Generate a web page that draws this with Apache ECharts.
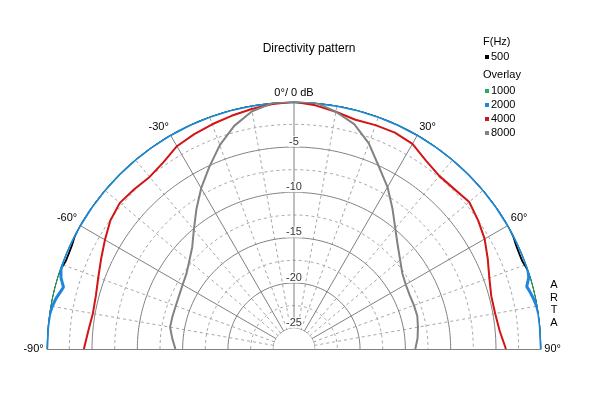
<!DOCTYPE html>
<html><head><meta charset="utf-8">
<script src="https://cdn.jsdelivr.net/npm/echarts@6/dist/echarts.min.js"></script>
<style>html,body{margin:0;padding:0;background:#fff}#c{width:600px;height:400px}</style>
</head><body><div id="c"></div>
<script>
// ---- data ----
const anglesMain = [-90,-85,-80,-75,-70,-65,-60,-55,-50,-45,-40,-35,-30,-25,-20,-15,-10,-5,0,5,10,15,20,25,30,35,40,45,50,55,60,65,70,75,80,85,90];
const db4000 = [-4.1,-4.5,-4.75,-4.65,-4.3,-3.8,-3.2,-2.55,-2.2,-2.35,-2.5,-2.15,-1.45,-1.15,-0.9,-0.65,-0.4,-0.15,0,-0.3,-0.7,-1.1,-1.0,-0.95,-1.15,-1.9,-2.35,-2.3,-2.05,-2.5,-3.0,-3.7,-4.35,-4.75,-4.75,-4.5,-3.9];
const db8000 = [-14.2,-13.8,-13.4,-13.4,-13.4,-13.3,-13.1,-12.8,-12.2,-11.4,-10.1,-8.5,-6.8,-5.15,-3.35,-1.8,-0.65,-0.05,0,0,-0.7,-1.6,-3.15,-5.1,-6.65,-8.35,-9.9,-11.1,-12.0,-12.7,-13.05,-13.2,-13.2,-13.2,-13.4,-13.6,-13.9];

const anglesOuter = [-90,-85,-82,-80,-78,-76,-75,-73,-71,-69,-67,-65,-63,
  -60,-55,-50,-45,-40,-35,-30,-25,-20,-15,-10,-5,0,5,10,15,20,25,30,35,40,45,50,55,60,
  63,65,67,69,71,73,75,76,78,80,82,85,90];
const db500 = [0,0,0,0,0,0,0,0,-0.1,-0.3,-0.3,-0.25,-0.1,
  0,0,0,0,0,0,0,0,0,0,0,0,0,0,0,0,0,0,0,0,0,0,0,0,0,
  -0.1,-0.25,-0.3,-0.3,-0.1,0,0,0,0,0,0,0,0];
const db1000 = [0,0,0,0,0,0,0,0,0,0,0,0,0,
  0,0,0,0,0,0,0,0,0,0,0,0,0,0,0,0,0,0,0,0,0,0,0,0,0,
  0,0,0,0,0,0,0,0,0,0,0,0,0];
const db2000 = [0,0,-0.05,-0.2,-0.45,-0.8,-0.95,-0.4,-0.1,0,0,0,0,
  0,0,0,0,0,0,0,0,0,0,0,0,0,0,0,0,0,0,0,0,0,0,0,0,0,
  0,0,0,0,0,-0.2,-0.7,-0.55,-0.3,-0.1,0,0,0];

const radialLabels = [-5,-10,-15,-20,-25];
const majorRings = [-25,-20,-15,-10,-5,0];
const minorRings = [-22.5,-17.5,-12.5,-7.5,-2.5];
const majorSpokes = [-60,-30,0,30,60];
const minorSpokes = [-80,-70,-50,-40,-20,-10,10,20,40,50,70,80];
const seriesNames = ['500','1000','2000','4000','8000'];
const seriesColors = ['#000000','#1fae62','#1e86dc','#d21414','#828282'];
const seriesWidths = [1.8, 1.8, 3, 2, 2];

// ---- chart ----
const FONT = '"Liberation Sans", Arial, sans-serif';
const chart = echarts.init(document.getElementById('c'));
const pair = (angles, vals) => angles.map((a, i) => [vals[i], a]);
const curves = [
  [anglesOuter, db500], [anglesOuter, db1000], [anglesOuter, db2000],
  [anglesMain, db4000], [anglesMain, db8000]
];
const arcAngles = [];
for (let a = -90; a <= 90; a += 1) arcAngles.push(a);
const solidGrid = {color: '#808080', width: 1};
const dashedGrid = {color: '#a6a6a6', width: 1, type: [3, 3]};
const gridLine = (data) => ({
  type: 'line', coordinateSystem: 'polar', silent: true, z: 1,
  data: data, symbol: 'none', showSymbol: false
});
const ringSeries = (level, dashed) => Object.assign(gridLine(arcAngles.map(a => [level, a])),
  {lineStyle: dashed ? dashedGrid : solidGrid});
const spokeSeries = (ang, dashed) => Object.assign(gridLine([[-25, ang], [0, ang]]),
  {lineStyle: dashed ? dashedGrid : solidGrid});
const titleStyle = {fontSize: 11, fontWeight: 'normal', color: '#000', fontFamily: FONT};

chart.setOption({
  animation: false,
  textStyle: {fontFamily: FONT},
  title: [
    {text: 'Directivity pattern', left: 309, top: 43, textAlign: 'center', padding: 0,
     textStyle: {fontSize: 12, fontWeight: 'normal', color: '#000', fontFamily: FONT}},
    {text: 'F(Hz)', left: 483, top: 36, padding: 0, textStyle: titleStyle},
    {text: 'Overlay', left: 483, top: 69, padding: 0, textStyle: titleStyle},
    {text: 'A\nR\nT\nA', left: 554, top: 279, textAlign: 'center', padding: 0,
     textStyle: Object.assign({}, titleStyle, {lineHeight: 12.5})}
  ],
  legend: [
    {data: [seriesNames[0]], orient: 'vertical', left: 485, top: 50, icon: 'rect',
     itemWidth: 4, itemHeight: 4, itemGap: 0, padding: 0, selectedMode: false,
     textStyle: {fontSize: 11, color: '#000', lineHeight: 14, padding: [0, 0, 0, -3], fontFamily: FONT}},
    {data: seriesNames.slice(1), orient: 'vertical', left: 485, top: 84, icon: 'rect',
     itemWidth: 4, itemHeight: 4, itemGap: 0, padding: 0, selectedMode: false,
     textStyle: {fontSize: 11, color: '#000', lineHeight: 14, padding: [0, 0, 0, -3], fontFamily: FONT}}
  ],
  polar: {center: [294, 349], radius: [20.7, 247.3]},
  angleAxis: {
    type: 'value', min: -90, max: 90, interval: 30,
    startAngle: 180, endAngle: 0, clockwise: true,
    axisLine: {show: false}, axisTick: {show: false},
    axisLabel: {show: true, margin: 3, fontSize: 11, color: '#000', fontFamily: FONT,
      formatter: v => (v === 0 ? '0°/ 0 dB' : v + '°')},
    splitLine: {show: false}, minorSplitLine: {show: false}
  },
  radiusAxis: {
    type: 'value', min: -25, max: 0, interval: 5,
    axisLine: {show: false}, axisTick: {show: false}, axisLabel: {show: false},
    splitLine: {show: false}, minorSplitLine: {show: false}
  },
  series: minorRings.map(l => ringSeries(l, true))
    .concat(minorSpokes.map(a => spokeSeries(a, true)))
    .concat(majorRings.map(l => ringSeries(l, false)))
    .concat(majorSpokes.map(a => spokeSeries(a, false)))
    .concat(curves.map((c, i) => ({
      type: 'line', coordinateSystem: 'polar', name: seriesNames[i],
      data: pair(c[0], c[1]), symbol: 'none', showSymbol: false, smooth: false,
      lineStyle: {width: seriesWidths[i], color: seriesColors[i]}, itemStyle: {color: seriesColors[i]},
      z: 3, silent: true
    })))
    .concat([{
      type: 'scatter', coordinateSystem: 'polar', silent: true, z: 5,
      data: radialLabels.map(v => [v, 0]), symbolSize: 0,
      label: {show: true, position: 'top', distance: 0, fontSize: 11, color: '#000',
        fontFamily: FONT, backgroundColor: '#fff', padding: [0, 1],
        formatter: p => String(p.value[0])}
    }])
});

const idx = minorRings.length;
const pL = chart.convertToPixel({seriesIndex: idx}, [0, -90]);
const pR = chart.convertToPixel({seriesIndex: idx}, [0, 90]);
const by = Math.round(pL[1]) + 0.5;
chart.setOption({graphic: [{type: 'line', z: 1, silent: true,
  shape: {x1: pL[0], y1: by, x2: pR[0], y2: by},
  style: {stroke: '#808080', lineWidth: 1}}]});
</script>
</body></html>
